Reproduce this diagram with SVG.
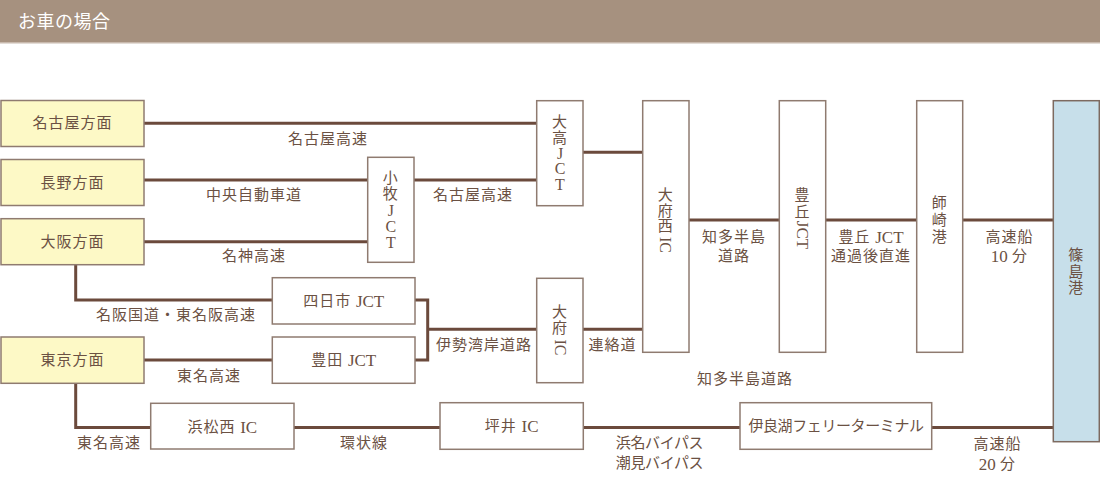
<svg xmlns="http://www.w3.org/2000/svg" width="1100" height="490" viewBox="0 0 1100 490">
<style>
text{font-family:"Liberation Serif","Noto Sans CJK JP",sans-serif;font-size:15px;fill:#6b5143;dominant-baseline:central;text-anchor:middle;letter-spacing:1px}
.hd{font-size:18px;fill:#ffffff;text-anchor:start;letter-spacing:0.5px}
.lat{font-size:17px;letter-spacing:0}
.vl{font-size:16px;letter-spacing:0}
.box{fill:#ffffff;stroke:#8f7b70;stroke-width:1.5}
.yel{fill:#fdf9c6;stroke:#8f7b70;stroke-width:1.5}
.blue{fill:#c7dfea;stroke:#7d6a60;stroke-width:1.5}
.ln{fill:none;stroke:#6b4a3c;stroke-width:3}
.kana{letter-spacing:-0.4px}
</style>
<rect x="0" y="0" width="1100" height="42" fill="#a6917f"/>
<rect x="0" y="42" width="1100" height="1.5" fill="#c8b9ad"/>
<text class="hd" x="18" y="21.5">お車の場合</text>

<g id="connectors">
<path class="ln" d="M144 123.3H537"/>
<path class="ln" d="M144 180H368"/>
<path class="ln" d="M144 241.7H368"/>
<path class="ln" d="M414 180H537"/>
<path class="ln" d="M583 152.3H643"/>
<path class="ln" d="M75.7 264.7V300H272.3"/>
<path class="ln" d="M144 360H272.3"/>
<path class="ln" d="M415 300H427.7V360H415"/>
<path class="ln" d="M427.7 329.3H537"/>
<path class="ln" d="M583 329.3H643"/>
<path class="ln" d="M689 220H779.3"/>
<path class="ln" d="M825.7 220H916.7"/>
<path class="ln" d="M962.7 220H1053.3"/>
<path class="ln" d="M75.7 383.3V427.5H150.7"/>
<path class="ln" d="M294 427.5H440"/>
<path class="ln" d="M583.3 427.5H740"/>
<path class="ln" d="M931.7 427.5H1053.3"/>
</g>

<g id="labels">
<text x="328" y="138.5">名古屋高速</text>
<text x="254" y="195">中央自動車道</text>
<text x="254" y="255.5">名神高速</text>
<text x="473" y="195">名古屋高速</text>
<text x="176" y="315">名阪国道・東名阪高速</text>
<text x="484" y="345">伊勢湾岸道路</text>
<text x="612.5" y="345">連絡道</text>
<text x="209" y="375.5">東名高速</text>
<text x="745" y="379">知多半島道路</text>
<text x="109" y="442.5">東名高速</text>
<text x="364" y="442.5">環状線</text>
<text class="kana" x="659.5" y="443">浜名バイパス</text>
<text class="kana" x="659.5" y="463">潮見バイパス</text>
<text x="997.5" y="443.5">高速船</text>
<text x="997.5" y="464"><tspan class="lat">20 </tspan>分</text>
<text x="734" y="236.7">知多半島</text>
<text x="734" y="256">道路</text>
<text x="871" y="236.7">豊丘 <tspan class="lat">JCT</tspan></text>
<text x="871" y="256">通過後直進</text>
<text x="1009.5" y="236.7">高速船</text>
<text x="1009.5" y="256"><tspan class="lat">10 </tspan>分</text>
</g>

<g id="n-nagoya"><rect class="yel" x="1" y="100.5" width="143" height="46"/><text x="72.5" y="123.3">名古屋方面</text></g>
<g id="n-nagano"><rect class="yel" x="1" y="159.5" width="143" height="46"/><text x="72.5" y="182.5">長野方面</text></g>
<g id="n-osaka"><rect class="yel" x="1" y="218.7" width="143" height="46"/><text x="72.5" y="241.7">大阪方面</text></g>
<g id="n-tokyo"><rect class="yel" x="1" y="337" width="143" height="46.3"/><text x="72.5" y="360">東京方面</text></g>

<g id="n-komaki"><rect class="box" x="367.7" y="157.3" width="46.3" height="105"/>
<text x="390.8" y="178">小</text><text x="390.8" y="194">牧</text><text class="vl" x="390.8" y="210.5">J</text><text class="vl" x="390.8" y="226.5">C</text><text class="vl" x="390.8" y="242">T</text></g>

<g id="n-odaka"><rect class="box" x="536.7" y="100.7" width="46.3" height="105"/>
<text x="560" y="121.7">大</text><text x="560" y="138">高</text><text class="vl" x="560" y="153.5">J</text><text class="vl" x="560" y="168.8">C</text><text class="vl" x="560" y="184.2">T</text></g>

<g id="n-obunishi"><rect class="box" x="642.7" y="100.7" width="46.3" height="251.6"/>
<text x="665.8" y="195">大</text><text x="665.8" y="210.5">府</text><text x="665.8" y="226">西</text>
<text class="vl" x="0" y="0" transform="translate(665.8 245) rotate(90)">IC</text></g>

<g id="n-obu"><rect class="box" x="536.7" y="278.3" width="46.3" height="104.4"/>
<text x="560" y="311.7">大</text><text x="560" y="328">府</text>
<text class="vl" x="0" y="0" transform="translate(560 347.5) rotate(90)">IC</text></g>

<g id="n-toyooka"><rect class="box" x="779.3" y="100.7" width="46.4" height="251.6"/>
<text x="802.5" y="195">豊</text><text x="802.5" y="211.5">丘</text>
<text class="vl" x="0" y="0" transform="translate(802.5 235) rotate(90)" style="font-size:17px">JCT</text></g>

<g id="n-morozaki"><rect class="box" x="916.7" y="100.7" width="46" height="251.6"/>
<text x="939.7" y="203.3">師</text><text x="939.7" y="220.3">崎</text><text x="939.7" y="236.7">港</text></g>

<g id="n-shinojima"><rect class="blue" x="1053.3" y="100.7" width="46" height="341"/>
<text x="1076.3" y="255">篠</text><text x="1076.3" y="271.5">島</text><text x="1076.3" y="288">港</text></g>

<g id="n-yokkaichi"><rect class="box" x="272.3" y="277.7" width="142.7" height="46.3"/><text x="343.7" y="301">四日市 <tspan class="lat">JCT</tspan></text></g>
<g id="n-toyota"><rect class="box" x="272.3" y="337" width="142.7" height="46.3"/><text x="343.7" y="360">豊田 <tspan class="lat">JCT</tspan></text></g>
<g id="n-hamamatsunishi"><rect class="box" x="150.7" y="403.3" width="143.3" height="45.7"/><text x="222.3" y="427">浜松西 <tspan class="lat">IC</tspan></text></g>
<g id="n-tsuboi"><rect class="box" x="440" y="402.7" width="143.3" height="46.6"/><text x="511.7" y="426">坪井 <tspan class="lat">IC</tspan></text></g>
<g id="n-irago"><rect class="box" x="740" y="402.7" width="191.7" height="46.6"/><text class="kana" x="836" y="426">伊良湖フェリーターミナル</text></g>
</svg>
